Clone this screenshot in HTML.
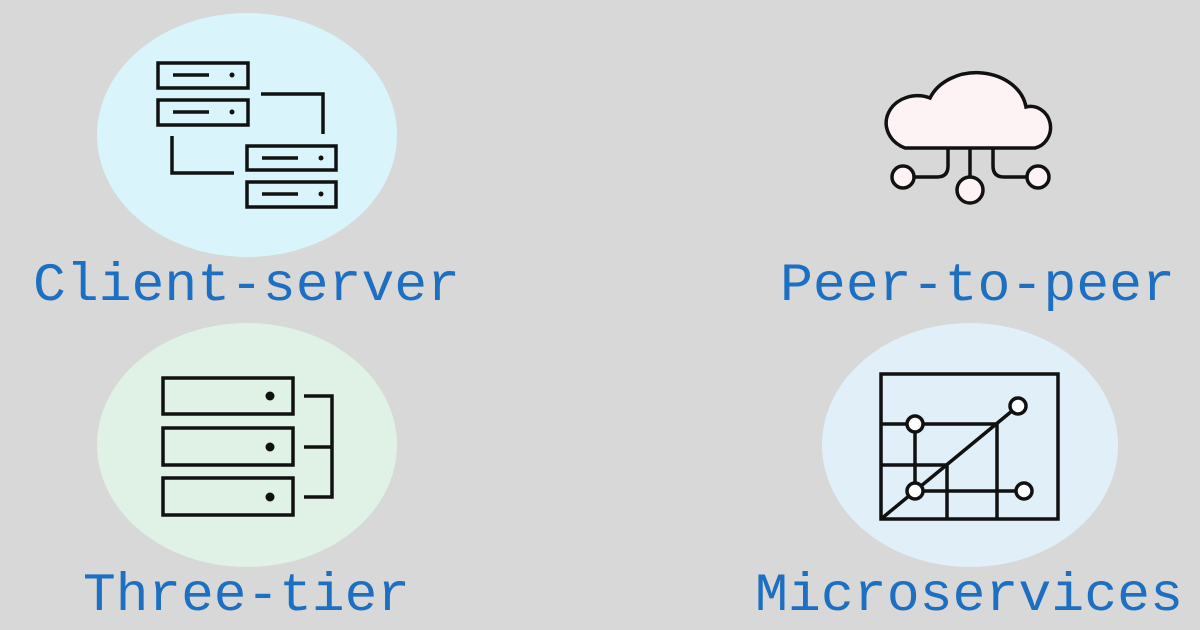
<!DOCTYPE html>
<html><head><style>
html,body{margin:0;padding:0;background:#d8d8d8;}
svg{display:block}
text{font-family:"Liberation Mono","DejaVu Sans Mono",monospace;font-size:54px;fill:#1d6fc2;}
</style></head><body>
<svg width="1200" height="630" viewBox="0 0 1200 630">
<rect width="1200" height="630" fill="#d8d8d8"/>
<ellipse cx="247" cy="135" rx="150" ry="122" fill="#d9f5fb"/>
<ellipse cx="247" cy="445" rx="150" ry="122" fill="#dff2e5"/>
<ellipse cx="970" cy="445" rx="148" ry="122" fill="#e1eff9"/>
<g fill="none" stroke="#111" stroke-width="3.5">
<rect x="158" y="63" width="90" height="25"/>
<rect x="158" y="100" width="90" height="25"/>
<rect x="247" y="146" width="89" height="24"/>
<rect x="247" y="182" width="89" height="25"/>
<line x1="173" y1="75" x2="209" y2="75"/><line x1="173" y1="112" x2="209" y2="112"/>
<line x1="262" y1="158" x2="298" y2="158"/><line x1="262" y1="194" x2="298" y2="194"/>
<polyline points="261,94 323,94 323,134"/>
<polyline points="172,136 172,173 234,173"/>
<rect x="163" y="378" width="130" height="36"/>
<rect x="163" y="428" width="130" height="37"/>
<rect x="163" y="478" width="130" height="37"/>
<polyline points="304,396 332,396 332,497 304,497"/>
<line x1="304" y1="447" x2="332" y2="447"/>
<rect x="881" y="374" width="177" height="145"/>
<line x1="881" y1="424" x2="997" y2="424"/>
<line x1="881" y1="465" x2="947" y2="465"/>
<line x1="915" y1="491" x2="1024" y2="491"/>
<line x1="915" y1="424" x2="915" y2="491"/>
<line x1="947" y1="465" x2="947" y2="519"/>
<line x1="997" y1="424" x2="997" y2="519"/>
<line x1="881" y1="519" x2="1018" y2="406"/>
<path d="M948 148 V166 Q948 177 937 177 H914"/>
<line x1="970" y1="148" x2="970" y2="177"/>
<path d="M993 148 V166 Q993 177 1004 177 H1027"/>
</g>
<g fill="#fff" stroke="#111" stroke-width="3.5">
<circle cx="915" cy="424" r="8"/><circle cx="1018" cy="406" r="8"/>
<circle cx="915" cy="491" r="8"/><circle cx="1024" cy="491" r="8"/>
</g>
<path d="M905 148 H1035 A20 21 0 0 0 1026 107 A50 40 0 0 0 930 98 A31 27 0 0 0 905 148 Z" fill="#fdf3f5" stroke="#111" stroke-width="3.5"/>
<g fill="#fdf3f5" stroke="#111" stroke-width="3.5">
<circle cx="903" cy="177" r="11"/><circle cx="970" cy="190" r="13"/><circle cx="1038" cy="177" r="11"/>
</g>
<g fill="#111">
<circle cx="232" cy="75" r="2.5"/><circle cx="232" cy="112" r="2.5"/>
<circle cx="321" cy="158" r="2.5"/><circle cx="321" cy="194" r="2.5"/>
<circle cx="270" cy="396" r="4.5"/><circle cx="270" cy="447" r="4.5"/><circle cx="270" cy="497" r="4.5"/>
</g>
<text x="33" y="300" textLength="427" lengthAdjust="spacingAndGlyphs">Client-server</text>
<text x="780" y="300" textLength="395" lengthAdjust="spacingAndGlyphs">Peer-to-peer</text>
<text x="83" y="610" textLength="327" lengthAdjust="spacingAndGlyphs">Three-tier</text>
<text x="755" y="610" textLength="428" lengthAdjust="spacingAndGlyphs">Microservices</text>
</svg>
</body></html>
